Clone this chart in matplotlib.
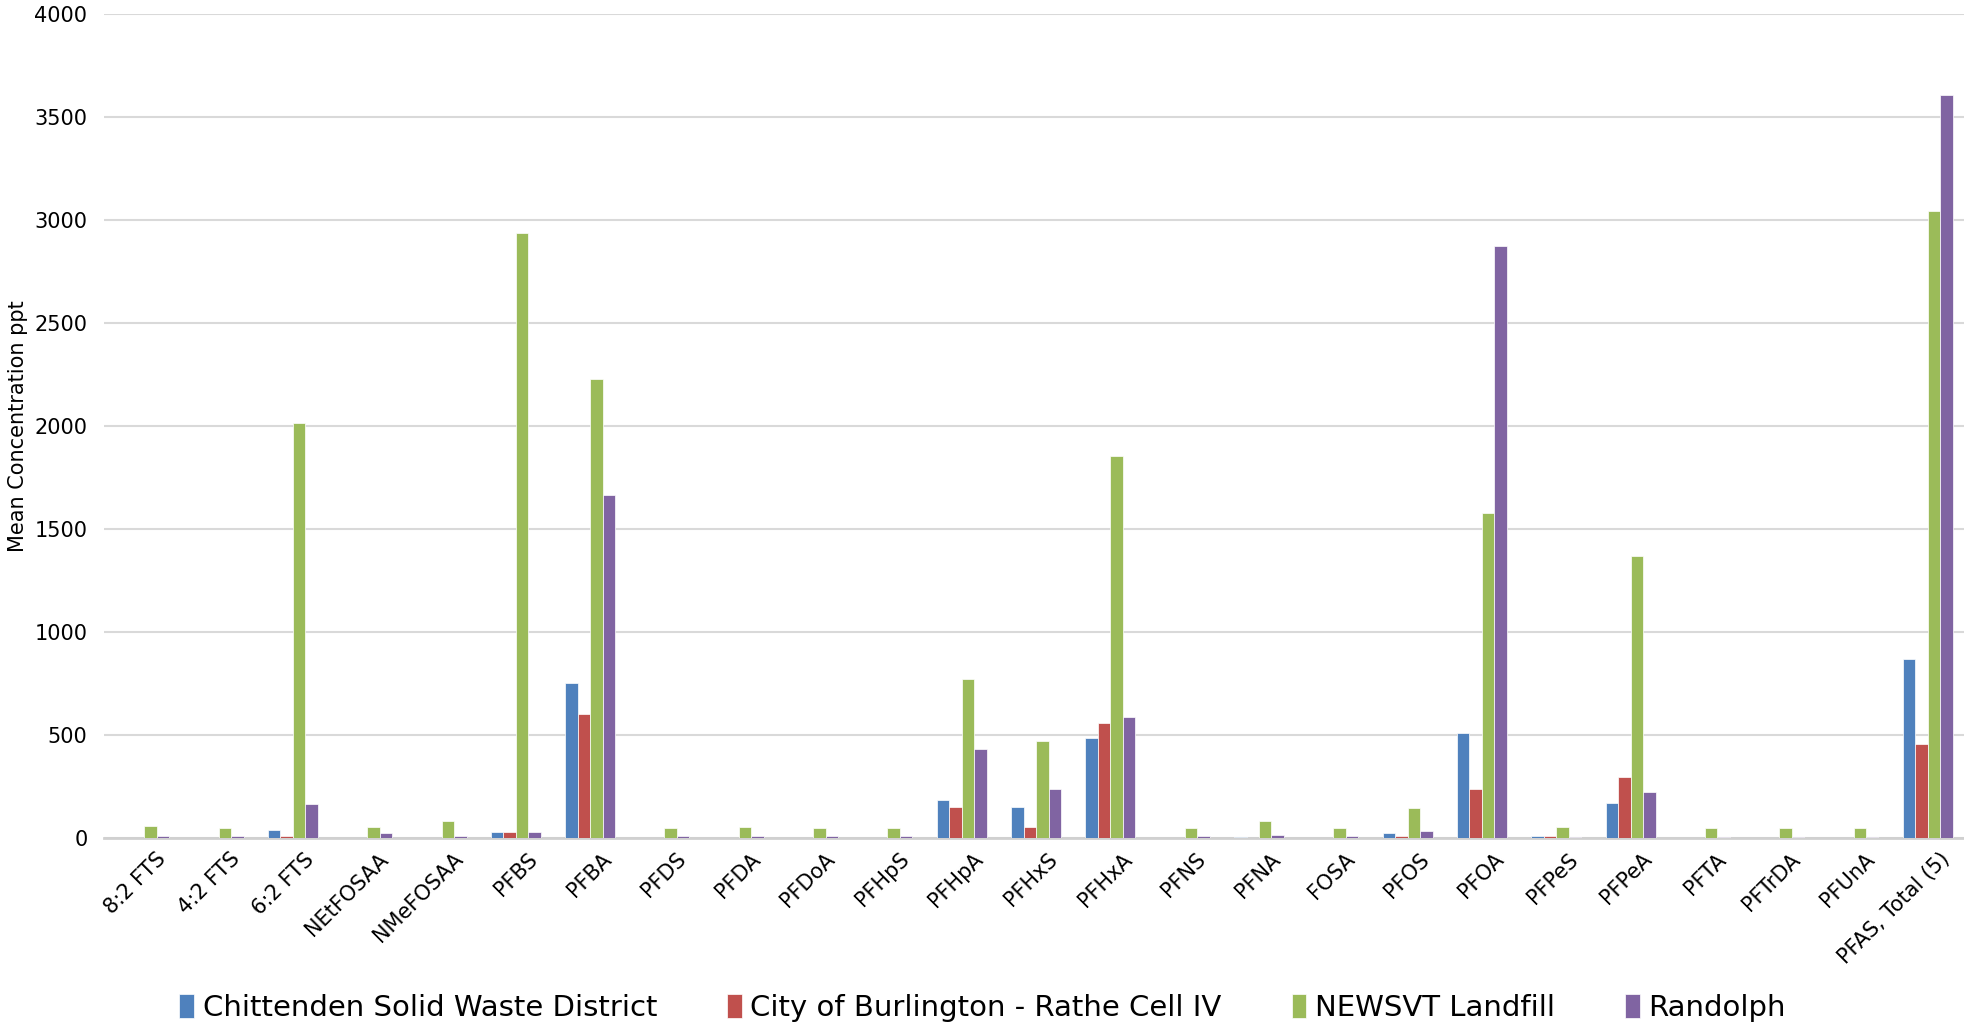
import matplotlib.pyplot as plt
import numpy as np

# Mean PFAS concentrations (ppt) at four landfill leachate sites
compounds = ["8:2 FTS", "4:2 FTS", "6:2 FTS", "NEtFOSAA", "NMeFOSAA", "PFBS", "PFBA",
             "PFDS", "PFDA", "PFDoA", "PFHpS", "PFHpA", "PFHxS", "PFHxA", "PFNS",
             "PFNA", "FOSA", "PFOS", "PFOA", "PFPeS", "PFPeA", "PFTA", "PFTrDA",
             "PFUnA", "PFAS, Total (5)"]

chittenden = [0, 0, 39, 0, 0, 29, 752, 0, 0, 0, 0, 186, 150, 487, 0,
              5, 0, 24, 511, 8, 172, 0, 0, 0, 868]
burlington = [0, 0, 8, 0, 0, 29, 600, 0, 0, 0, 0, 150, 55, 560, 0,
              0, 0, 8, 240, 8, 298, 0, 0, 0, 458]
newsvt = [60, 48, 2015, 55, 81, 2935, 2229, 48, 55, 48, 48, 770, 469, 1853, 48,
          81, 48, 144, 1577, 55, 1370, 49, 50, 50, 3042]
randolph = [8, 8, 165, 23, 8, 29, 1663, 8, 8, 8, 8, 434, 240, 586, 8,
            13, 8, 34, 2876, 6, 223, 6, 6, 6, 3608]

series = [
    ("Chittenden Solid Waste District", chittenden, "#4F81BD"),
    ("City of Burlington - Rathe Cell IV", burlington, "#C0504D"),
    ("NEWSVT Landfill", newsvt, "#9BBB59"),
    ("Randolph", randolph, "#8064A2"),
]

fig = plt.figure(figsize=(19.65, 10.30), dpi=100)
ax = fig.add_axes([0.053, 0.1864, 0.947, 0.80])

x = np.arange(len(compounds))
w = 0.168
for i, (name, vals, col) in enumerate(series):
    ax.bar(x + (i - 1.5) * w, vals, width=w, color=col, edgecolor="white",
           linewidth=0.5, label=name, zorder=3)

ax.set_xlim(-0.54, len(compounds) - 0.5)
ax.set_ylim(0, 4000)
ax.set_yticks(range(0, 4001, 500))
ax.yaxis.grid(True, color="#d9d9d9", linewidth=1.5, zorder=0)
ax.tick_params(axis="y", length=0, labelsize=15, pad=12)
ax.tick_params(axis="x", length=0, labelsize=15, pad=8)

ax.set_xticks(x + 0.15)
ax.set_xticklabels(compounds, rotation=45, ha="right", rotation_mode="anchor")

for side in ["top", "right", "left"]:
    ax.spines[side].set_visible(False)
ax.spines["bottom"].set_color("#d0d0d0")
ax.spines["bottom"].set_linewidth(2)

ax.set_ylabel("Mean Concentration ppt", fontsize=15, labelpad=5)

fig.legend(loc="lower center", bbox_to_anchor=(0.5, -0.018), ncol=4, frameon=False,
           fontsize=21, handlelength=0.5, handleheight=0.9, handletextpad=0.3,
           columnspacing=2.4)

fig.savefig("out.png", dpi=100)
